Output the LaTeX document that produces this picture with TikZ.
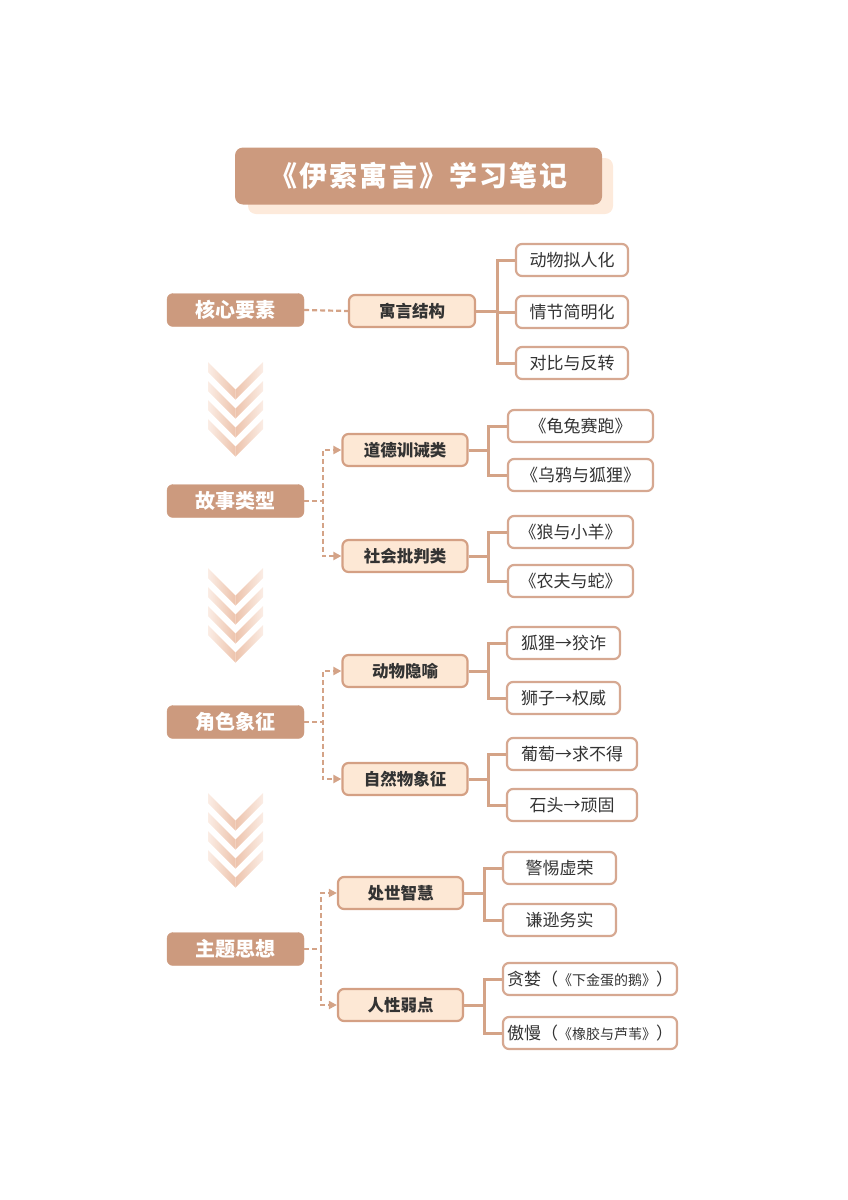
\documentclass[tikz,border=0pt]{standalone}
\usepackage{fontspec}
\setmainfont{Noto Sans CJK SC}
\newfontfamily\titlefont[LetterSpace=7]{Noto Sans CJK SC}
\usetikzlibrary{arrows.meta}
\definecolor{dark}{HTML}{CC9A7E}
\definecolor{lfill}{HTML}{FDE8D5}
\definecolor{lborder}{HTML}{D4A084}
\definecolor{cborder}{HTML}{D6A891}
\definecolor{conn}{HTML}{D4A387}
\definecolor{shadowc}{HTML}{FDEADB}
\definecolor{txt}{HTML}{333333}
\definecolor{chevd}{HTML}{EDC3AC}
\definecolor{chevl}{HTML}{FBEDE5}
\begin{document}
\begin{tikzpicture}[x=1pt,y=-1pt,
  topbox/.style={fill=dark,draw=dark,rounded corners=6pt,inner sep=0pt,text=white,
    font=\fontsize{20}{22}\selectfont\bfseries,minimum width=137pt,minimum height=33pt},
  midbox/.style={fill=lfill,draw=lborder,line width=2.2pt,rounded corners=6pt,inner sep=0pt,text=txt,
    font=\fontsize{16.5}{18}\selectfont\bfseries,minimum width=125pt,minimum height=32pt},
  leafbox/.style={fill=white,draw=cborder,line width=2.2pt,rounded corners=6pt,inner sep=0pt,text=txt,
    font=\fontsize{17}{19}\selectfont,minimum height=32pt},
  solidline/.style={draw=conn,line width=3pt},
  dashline/.style={draw=conn,line width=2.2pt,dash pattern=on 5pt off 3pt},
  arrline/.style={dashline,-{Triangle[length=8pt,width=8pt]}},
]
\useasboundingbox (0,0) rectangle (848,1200);
% title
\fill[shadowc,rounded corners=8pt] (248,158) rectangle (613,214);
\node[fill=dark,rounded corners=8pt,minimum width=367pt,minimum height=57pt,inner sep=0pt,
  text=white,font=\titlefont\fontsize{28}{30}\selectfont\bfseries] (title) at (418.5,176) {《伊索寓言》学习笔记};

% chevrons
\foreach \cy in {362,568,793}{
  \foreach \k in {0,1,2,3}{
    \pgfmathsetmacro{\yy}{\cy+19*\k}
    \shade[left color=chevl,right color=chevd] (208,\yy) -- (235.5,\yy+27.5) -- (235.5,\yy+37.5) -- (208,\yy+10) -- cycle;
    \shade[left color=chevd,right color=chevl] (235.5,\yy+27.5) -- (263,\yy) -- (263,\yy+10) -- (235.5,\yy+37.5) -- cycle;
  }
}

% level 1
\node[topbox] (k1) at (235.5,310) {核心要素};
\node[topbox] (k2) at (235.5,501) {故事类型};
\node[topbox] (k3) at (235.5,722) {角色象征};
\node[topbox] (k4) at (235.5,949) {主题思想};

% level 2
\node[midbox,minimum width=126pt] (a1) at (412,311) {寓言结构};
\node[midbox] (b1) at (405,450) {道德训诫类};
\node[midbox] (b2) at (405,556) {社会批判类};
\node[midbox] (c1) at (405,671) {动物隐喻};
\node[midbox] (c2) at (405,779) {自然物象征};
\node[midbox] (d1) at (400.5,893) {处世智慧};
\node[midbox] (d2) at (400.5,1005) {人性弱点};

% level 3
\node[leafbox,minimum width=112pt] (a11) at (572,260) {动物拟人化};
\node[leafbox,minimum width=112pt] (a12) at (572,312) {情节简明化};
\node[leafbox,minimum width=112pt] (a13) at (572,363) {对比与反转};
\node[leafbox,minimum width=145pt] (b11) at (580.5,426) {《龟兔赛跑》};
\node[leafbox,minimum width=145pt] (b12) at (580.5,475) {《乌鸦与狐狸》};
\node[leafbox,minimum width=125pt] (b21) at (570.5,532) {《狼与小羊》};
\node[leafbox,minimum width=125pt] (b22) at (570.5,581) {《农夫与蛇》};
\node[leafbox,minimum width=113pt] (c11) at (563.5,643) {狐狸→狡诈};
\node[leafbox,minimum width=113pt] (c12) at (563.5,698) {狮子→权威};
\node[leafbox,minimum width=130pt] (c21) at (572,754) {葡萄→求不得};
\node[leafbox,minimum width=130pt] (c22) at (572,805) {石头→顽固};
\node[leafbox,minimum width=113pt] (d11) at (559.5,868) {警惕虚荣};
\node[leafbox,minimum width=113pt] (d12) at (559.5,920) {谦逊务实};
\node[leafbox,minimum width=174pt] (d21) at (590,979) {贪婪（{\fontsize{14}{16}\selectfont《下金蛋的鹅》}）};
\node[leafbox,minimum width=174pt] (d22) at (590,1033) {傲慢（{\fontsize{14}{16}\selectfont《橡胶与芦苇》}）};

% solid connectors
\foreach \p/\c in {a1/a11,a1/a12,a1/a13}{\draw[solidline] (\p.east) -- ++(21,0) |- (\c.west);}
\foreach \p/\c in {b1/b11,b1/b12,b2/b21,b2/b22,c1/c11,c1/c12,c2/c21,c2/c22}{\draw[solidline] (\p.east) -- ++(19.5,0) |- (\c.west);}
\foreach \p/\c in {d1/d11,d1/d12,d2/d21,d2/d22}{\draw[solidline] (\p.east) -- ++(20,0) |- (\c.west);}

% dashed connectors
\draw[dashline] (k1.east) -- (a1.west);
\foreach \p/\c in {k2/b1,k2/b2,k3/c1,k3/c2}{\draw[arrline] (\p.east) -- ++(18.5,0) |- (\c.west);}
\foreach \p/\c in {k4/d1,k4/d2}{\draw[arrline] (\p.east) -- ++(17,0) |- (\c.west);}
\end{tikzpicture}
\end{document}
